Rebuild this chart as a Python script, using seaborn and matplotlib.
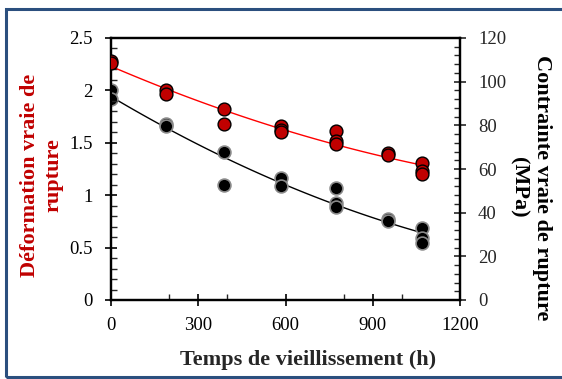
import matplotlib
matplotlib.use("Agg")
import matplotlib.pyplot as plt
import seaborn as sns
import pandas as pd
from matplotlib.patches import Rectangle
from matplotlib.ticker import MultipleLocator

sns.set_style("ticks")
plt.rcParams['font.family'] = ['Liberation Serif', 'DejaVu Serif']

# --- data ---
time_strain = [0, 0, 190, 190, 387, 387, 586, 586, 586, 775, 775, 775, 953, 953, 1070, 1070, 1070]
strain = [2.28, 2.26, 2.00, 1.97, 1.82, 1.68, 1.66, 1.62, 1.60, 1.61, 1.52, 1.49, 1.40, 1.38, 1.31, 1.23, 1.20]

time_stress = [0, 0, 190, 190, 387, 387, 586, 586, 775, 775, 775, 953, 953, 1070, 1070, 1070]
stress = [96, 92, 80.5, 79.8, 68, 52.7, 56, 52, 51.5, 44.3, 42.5, 37, 36, 33, 28.5, 26]

x_ticks = [0, 300, 600, 900, 1200]
left_ticks = [0, 0.5, 1, 1.5, 2, 2.5]
left_labels = ["0", "0.5", "1", "1.5", "2", "2.5"]
right_ticks = [0, 20, 40, 60, 80, 100, 120]

df_strain = pd.DataFrame({"t": time_strain, "v": strain})
df_stress = pd.DataFrame({"t": time_stress, "v": stress})

fig = plt.figure(figsize=(5.62, 3.79), dpi=100)
ax = fig.add_axes([111/562, 1 - 300/379, (460 - 111)/562, (300 - 38)/379])
ax2 = ax.twinx()

# stress (right axis, black)
sns.regplot(data=df_stress, x="t", y="v", order=2, ci=None, scatter=False, ax=ax2,
            line_kws=dict(color="black", lw=1.0, zorder=2))
sns.scatterplot(data=df_stress, x="t", y="v", ax=ax2, color="black", edgecolor="#8a8a8a",
                linewidth=1.2, s=85, zorder=3, legend=False)

# strain (left axis, red) - draw on top
ax.set_zorder(ax2.get_zorder() + 1)
ax.patch.set_visible(False)
sns.regplot(data=df_strain, x="t", y="v", order=2, ci=None, scatter=False, ax=ax,
            line_kws=dict(color="#ff0000", lw=1.0, zorder=2))
sns.scatterplot(data=df_strain, x="t", y="v", ax=ax, color="#c00000", edgecolor="black",
                linewidth=1.0, s=85, zorder=3, legend=False)

ax.set_xlim(0, 1200)
ax.set_ylim(0, 2.5)
ax2.set_ylim(0, 120)
ax.set_xticks(x_ticks)
ax.set_xticklabels([str(v) for v in x_ticks])
ax.set_yticks(left_ticks)
ax.set_yticklabels(left_labels)
ax2.set_yticks(right_ticks)
ax2.set_yticklabels([str(v) for v in right_ticks])
ax.xaxis.set_minor_locator(MultipleLocator(200))
ax.yaxis.set_minor_locator(MultipleLocator(0.1))
ax2.yaxis.set_minor_locator(MultipleLocator(4))

for a in (ax, ax2):
    for sp in a.spines.values():
        sp.set_visible(True)
        sp.set_linewidth(1.6)
        sp.set_color("black")

ax.tick_params(which="major", direction="inout", length=8, width=1.2, labelsize=13.5, colors="black")
ax.tick_params(axis="y", which="major", pad=9)
ax.tick_params(axis="x", which="major", pad=8)
ax.tick_params(which="minor", direction="in", length=4, width=1.0)
ax.tick_params(axis="y", which="both", right=False)
ax.tick_params(axis="x", which="both", top=False)
ax2.tick_params(which="major", direction="inout", length=8, width=1.2, labelsize=13.5, pad=9)
ax2.tick_params(which="minor", direction="in", length=4, width=1.0)
ax2.tick_params(axis="y", which="both", left=False)

ax.set_xlabel("Temps de vieillissement (h)", fontsize=16, fontweight="bold", labelpad=12)
ax.set_ylabel("Déformation vraie de\nrupture", fontsize=16, fontweight="bold",
              color="#c00000", labelpad=4, linespacing=1.25)
ax2.set_ylabel("Contrainte vraie de rupture\n(MPa)", fontsize=16, fontweight="bold",
               color="black", rotation=270, labelpad=33, linespacing=1.25)
ax.xaxis.label.set_x(0.565)
ax.yaxis.label.set_y(0.477)
ax2.yaxis.label.set_y(0.43)

fig.patches.append(Rectangle((6/562, 1 - 377/379), 1.2, (377 - 9)/379, transform=fig.transFigure,
                             fill=False, edgecolor="#2b4f7e", linewidth=2.2))

fig.savefig("out.png", dpi=100)
